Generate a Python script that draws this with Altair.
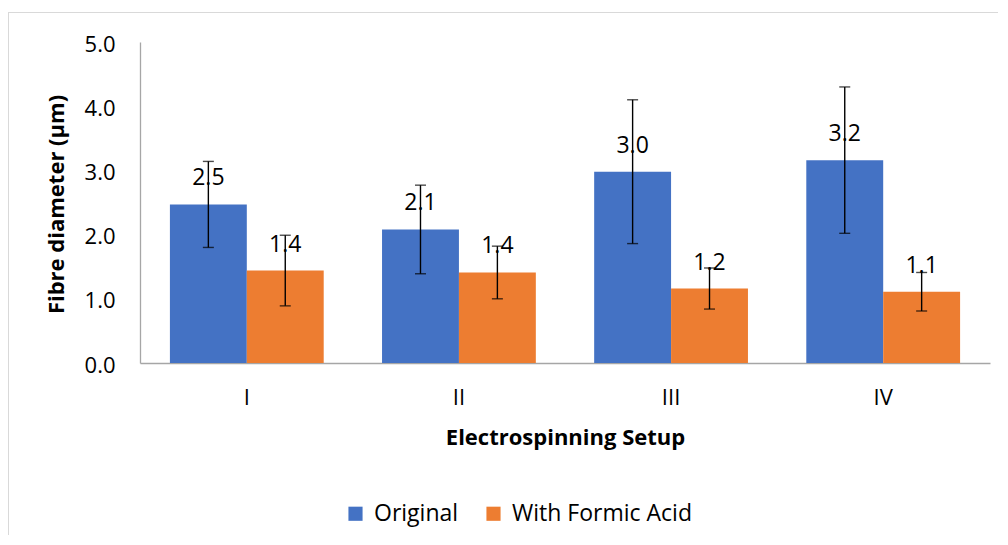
import altair as alt
import pandas as pd

setups = ["I", "II", "III", "IV"]
series_names = ["Original", "With Formic Acid"]
original = [2.47, 2.08, 2.98, 3.16]
original_err = [0.67, 0.69, 1.12, 1.14]
formic = [1.44, 1.41, 1.16, 1.11]
formic_err = [0.55, 0.41, 0.32, 0.30]
colors = ["#4472C4", "#ED7D31"]
y_ticks = [0, 1, 2, 3, 4, 5]

rows = []
for i, s in enumerate(setups):
    rows.append(dict(setup=s, series=series_names[0], value=original[i], err=original_err[i]))
    rows.append(dict(setup=s, series=series_names[1], value=formic[i], err=formic_err[i]))
df = pd.DataFrame(rows)
df["lo"] = df["value"] - df["err"]
df["hi"] = df["value"] + df["err"]

FONT = "Open Sans"
W, H = 850, 321

x_enc = alt.X(
    "setup:N", sort=setups,
    scale=alt.Scale(paddingInner=0.275, paddingOuter=0.141),
    axis=alt.Axis(
        title="Electrospinning Setup", labelAngle=0, ticks=False, labelPadding=24,
        domainColor="#A6A6A6", domainWidth=1.3, labelFontSize=22, labelFont=FONT,
        labelColor="#000000", titleFontSize=22, titleFont=FONT, titleFontWeight="bold",
        titleColor="#000000", titlePadding=19,
    ),
)
xo_enc = alt.XOffset("series:N", sort=series_names,
                     scale=alt.Scale(paddingInner=0, paddingOuter=0))
y_scale = alt.Scale(domain=[0, 5], nice=False)

base = alt.Chart(df)

bars = base.mark_bar().encode(
    x=x_enc,
    xOffset=xo_enc,
    y=alt.Y(
        "value:Q", scale=y_scale,
        axis=alt.Axis(
            title="Fibre diameter (µm)", values=y_ticks, format=".1f", grid=False,
            ticks=False, labelPadding=25, labelOffset=2, domainColor="#A6A6A6", domainWidth=1.3,
            labelFontSize=22, labelFont=FONT, labelColor="#000000",
            titleFontSize=22, titleFont=FONT, titleFontWeight="bold", titleColor="#000000",
            titleX=-84, titleY=162, titleBaseline="middle", titleAngle=-90,
        ),
    ),
    color=alt.Color(
        "series:N", sort=series_names,
        scale=alt.Scale(domain=series_names, range=colors),
        legend=alt.Legend(
            title=None, orient="none", legendX=204, legendY=460, direction="horizontal",
            symbolType="square", symbolSize=200, symbolStrokeWidth=0,
            labelFontSize=23, labelFont=FONT, labelColor="#000000", labelLimit=400,
            labelOffset=7, columnPadding=23,
        ),
    ),
)

err_rule = base.mark_rule(color="#000000", strokeWidth=1.4).encode(
    x=alt.X("setup:N", sort=setups),
    xOffset=alt.XOffset("series:N", sort=series_names),
    y=alt.Y("lo:Q", scale=y_scale),
    y2="hi:Q",
)
cap_lo = base.mark_tick(color="#000000", thickness=1.4, size=11, orient="horizontal").encode(
    x=alt.X("setup:N", sort=setups),
    xOffset=alt.XOffset("series:N", sort=series_names),
    y=alt.Y("lo:Q", scale=y_scale),
)
cap_hi = base.mark_tick(color="#000000", thickness=1.4, size=11, orient="horizontal").encode(
    x=alt.X("setup:N", sort=setups),
    xOffset=alt.XOffset("series:N", sort=series_names),
    y=alt.Y("hi:Q", scale=y_scale),
)
labels = base.mark_text(
    font=FONT, fontSize=23, color="#000000", baseline="alphabetic", dy=-19
).encode(
    x=alt.X("setup:N", sort=setups),
    xOffset=alt.XOffset("series:N", sort=series_names),
    y=alt.Y("value:Q", scale=y_scale),
    text=alt.Text("value:Q", format=".1f"),
)

frame_df = pd.DataFrame({"k": [0]})
frame_left = alt.Chart(frame_df).mark_rule(color="#D9D9D9", strokeWidth=1).encode(
    x=alt.value(-131.5), y=alt.value(-29.5), y2=alt.value(H + 200)
)
frame_top = alt.Chart(frame_df).mark_rule(color="#D9D9D9", strokeWidth=1).encode(
    x=alt.value(-132), x2=alt.value(W + 10), y=alt.value(-29.5)
)

chart = alt.layer(frame_left, frame_top, bars, err_rule, cap_lo, cap_hi, labels).properties(
    width=W, height=H,
    autosize=alt.AutoSizeParams(type="none"),
    padding={"left": 132, "top": 34, "right": 8, "bottom": 172},
    background="#FFFFFF",
).configure_view(stroke=None)

chart.save("out.html", embed_options={"renderer": "svg", "actions": False})
